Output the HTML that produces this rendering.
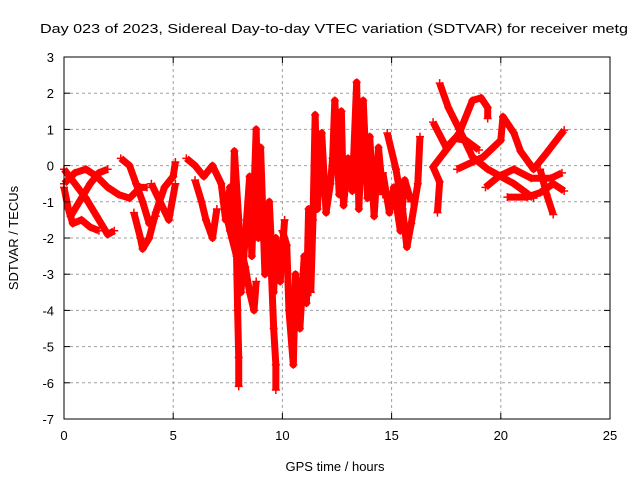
<!DOCTYPE html>
<html><head><meta charset="utf-8"><style>
body{margin:0;background:#fff}
svg text{font-family:"Liberation Sans",sans-serif;font-size:13px;fill:#000}
</style></head><body>
<svg id="chart" width="640" height="480" xmlns="http://www.w3.org/2000/svg">
<rect width="640" height="480" fill="#fff"/>
<text x="40" y="33" font-size="15" textLength="588" lengthAdjust="spacingAndGlyphs">Day 023 of 2023, Sidereal Day-to-day VTEC variation (SDTVAR) for receiver metg</text>
<g id="grid"></g>
<g id="series"></g>
<g id="axes"></g>
<text x="335" y="471" text-anchor="middle" font-size="14">GPS time / hours</text>
<text transform="translate(18,238) rotate(-90)" text-anchor="middle" font-size="14">SDTVAR / TECUs</text>
</svg>
<script>
const xTicks=[0,5,10,15,20,25];
const yTicks=[3,2,1,0,-1,-2,-3,-4,-5,-6,-7];
const trackA=[[0,-0.1],[0.5,-0.5],[1,-0.9],[1.5,-1.4],[2,-1.9],[2.3,-1.8]];
const trackB=[[0,-0.5],[0.5,-0.2],[1,-0.1],[1.5,-0.3],[2,-0.6],[2.5,-0.8],[3,-0.9],[3.5,-0.6],[3.8,-0.6]];
const trackC=[[0.3,-1.4],[0.8,-0.9],[1.2,-0.5],[1.6,-0.2],[2.0,-0.1]];
const trackD=[[0,-0.6],[0.2,-1.2],[0.4,-1.6],[0.8,-1.5],[1.2,-1.7],[1.6,-1.8]];
const trackE=[[2.6,0.2],[3,0.0],[3.3,-0.5],[3.6,-1.0],[3.9,-1.6],[4.2,-1.4]];
const trackF=[[3.2,-1.3],[3.5,-2.0],[3.6,-2.3],[3.9,-2.0],[4.2,-1.3],[4.6,-0.6],[5.0,-0.3],[5.1,0.1]];
const trackG=[[4.0,-0.5],[4.4,-1.0],[4.8,-1.5],[5.1,-0.5]];
const trackH=[[5.6,0.2],[6,0.0],[6.4,-0.3],[6.8,0.0],[7.2,-0.5],[7.4,-1.5],[7.6,-0.6],[7.7,-2.0],[7.8,0.4],[8.0,-1.5],[8.1,-3.5],[8.3,-2.0],[8.5,-0.3],[8.6,-2.5],[8.8,1.0],[8.9,-2.0],[9.0,0.5],[9.2,-3.0],[9.4,-1.0],[9.6,-3.5],[9.7,-2.0],[9.9,-3.2],[10.1,-1.5]];
const trackI=[[6.0,-0.4],[6.3,-1.0],[6.5,-1.5],[6.8,-2.0],[7.0,-1.2]];
const trackJ=[[7.3,-1.0],[7.6,-1.8],[7.9,-2.5],[7.95,-4.0],[8.0,-5.3],[8.0,-6.1]];
const trackK=[[7.8,-1.5],[8.1,-2.3],[8.3,-2.8],[8.5,-3.5],[8.7,-4.0],[8.8,-3.2]];
const trackL=[[9.2,-1.5],[9.4,-2.5],[9.5,-3.0],[9.6,-4.5],[9.7,-5.5],[9.7,-6.2]];
const trackM=[[10.0,-1.8],[10.2,-2.2],[10.3,-4.0],[10.5,-5.5],[10.6,-3.0],[10.8,-4.5],[11.0,-2.5],[11.1,-3.8],[11.2,-1.2],[11.3,-2.5]];
const trackN=[[11.3,-3.5],[11.4,-1.5],[11.5,1.4],[11.6,-1.2],[11.8,0.9],[12.0,-1.3],[12.2,-0.5],[12.3,0.2],[12.4,1.8],[12.6,-0.8],[12.7,1.5],[12.8,-1.1],[13.0,0.2],[13.2,-0.7],[13.4,2.3],[13.5,-1.2],[13.7,1.8],[13.9,-0.9],[14.0,0.8],[14.2,-1.4],[14.4,0.5],[14.6,-0.8]];
const trackO=[[14.8,0.9],[15.2,-0.1],[15.5,-1.2],[15.7,-2.25],[15.9,-1.6],[16.2,-0.5],[16.3,0.8]];
const trackP=[[14.6,-0.2],[14.9,-1.3],[15.1,-0.6],[15.4,-1.8],[15.6,-0.4],[15.9,-1.0]];
const trackQ=[[17.2,2.28],[17.6,1.6],[18.1,1.0],[18.7,0.24],[19.4,-0.1],[20.6,-0.5],[21.5,-0.9]];
const trackR=[[16.9,1.2],[17.5,0.5],[17.9,0.75],[18.4,0.7],[19.0,0.43]];
const trackS=[[17.1,-1.3],[17.2,-0.45],[16.9,-0.04],[17.5,0.43],[18.1,0.9],[18.7,1.8],[19.1,1.87],[19.4,1.6],[19.4,1.3]];
const trackT=[[18.0,-0.1],[19.2,0.24],[20.0,0.7],[20.1,1.35],[20.6,0.9],[20.9,0.4],[21.5,-0.1],[22.1,0.35],[22.9,0.98]];
const trackU=[[19.3,-0.6],[19.9,-0.3],[20.6,-0.1],[21.4,-0.35],[22.3,-0.35],[22.8,-0.2]];
const trackV=[[20.3,-0.87],[21.2,-0.87],[21.8,-0.75],[22.4,-0.5],[22.9,-0.7]];
const trackW=[[21.8,-0.1],[22.1,-0.8],[22.4,-1.35]];
const tracks=[trackA,trackB,trackC,trackD,trackE,trackF,trackG,trackH,trackI,trackJ,trackK,trackL,trackM,trackN,trackO,trackP,trackQ,trackR,trackS,trackT,trackU,trackV,trackW];

const X0=64,X1=610,Y0=57,Y1=419;
const xs=v=>X0+(v-0)/(25-0)*(X1-X0);
const ys=v=>Y0+(3-v)/(3-(-7))*(Y1-Y0);
const NS="http://www.w3.org/2000/svg";
function mk(tag,attrs,parent){const e=document.createElementNS(NS,tag);for(const k in attrs)e.setAttribute(k,attrs[k]);parent.appendChild(e);return e;}
const grid=document.getElementById('grid'),axes=document.getElementById('axes'),ser=document.getElementById('series');
xTicks.forEach(t=>{
  const x=xs(t);
  if(t>0&&t<25){const g=mk('line',{x1:x,x2:x,y1:Y0,y2:Y1,stroke:'#a0a0a0','stroke-dasharray':'3,3'},grid);
  
  }
  mk('line',{x1:x,x2:x,y1:Y1,y2:Y1-6,stroke:'#000'},axes);
  mk('line',{x1:x,x2:x,y1:Y0,y2:Y0+6,stroke:'#000'},axes);
  const tx=mk('text',{x:x,y:Y1+21,'text-anchor':'middle'},axes);tx.textContent=t;
  
  
});
yTicks.forEach(t=>{
  const y=ys(t);
  if(t<3&&t>-7){const g=mk('line',{x1:X0,x2:X1,y1:y,y2:y,stroke:'#a0a0a0','stroke-dasharray':'3,3'},grid);
  
  }
  mk('line',{x1:X0,x2:X0+6,y1:y,y2:y,stroke:'#000'},axes);
  mk('line',{x1:X1,x2:X1-6,y1:y,y2:y,stroke:'#000'},axes);
  const tx=mk('text',{x:X0-10,y:y+5,'text-anchor':'end'},axes);tx.textContent=t;
  
  
});
mk('rect',{x:X0,y:Y0,width:X1-X0,height:Y1-Y0,fill:'none',stroke:'#000'},axes);
tracks.forEach(tr=>{
  const pl=mk('polyline',{points:tr.map(p=>xs(p[0])+','+ys(p[1])).join(' '),fill:'none',stroke:'#f00','stroke-width':7,'stroke-linejoin':'round'},ser);
  
  
  tr.forEach(p=>{
    const x=xs(p[0]),y=ys(p[1]);
    const m=mk('path',{d:`M${x-4},${y}H${x+4}M${x},${y-4}V${y+4}`,stroke:'#f00','stroke-width':1.5},ser);
    
    
  });
});
</script>
</body></html>
